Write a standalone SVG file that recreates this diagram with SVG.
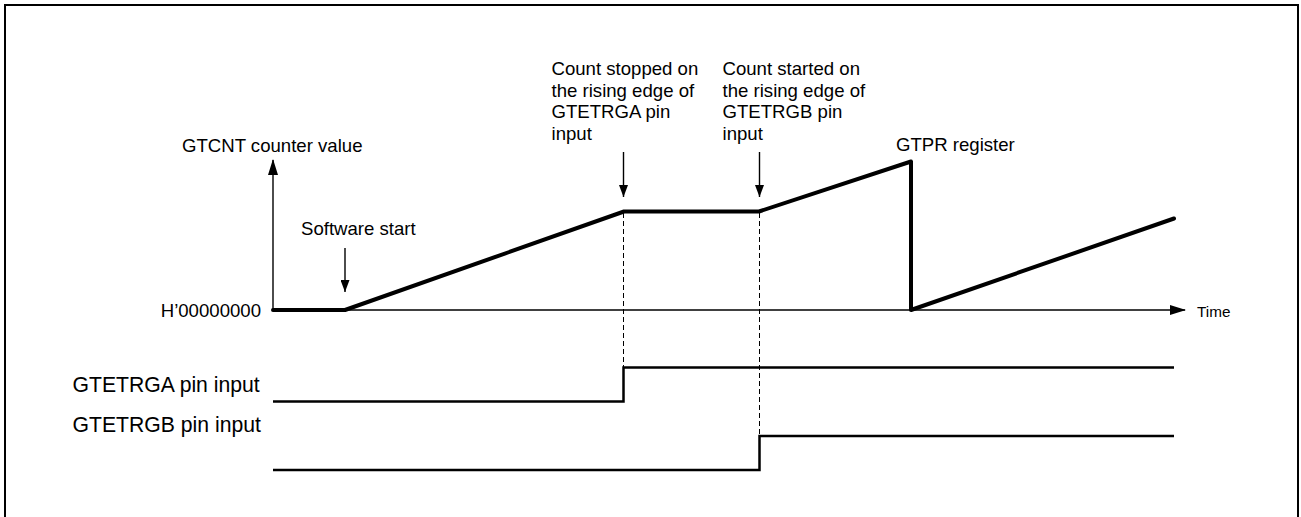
<svg xmlns="http://www.w3.org/2000/svg" width="1301" height="517" viewBox="0 0 1301 517">
<style>
text{font-family:"Liberation Sans",Arial,sans-serif;fill:#000}
.t{font-size:18.6px}
.b{font-size:21.2px}
.s{font-size:15.3px}
.ax{stroke:#000;stroke-width:1.4;fill:none}
.thick{stroke:#000;stroke-width:4;fill:none;stroke-linejoin:round;stroke-linecap:round}
.sig{stroke:#000;stroke-width:2.5;fill:none}
.dash{stroke:#000;stroke-width:1;stroke-dasharray:5,3;fill:none}
.ar{stroke:#000;stroke-width:1.4;fill:none}
</style>
<defs>
<marker id="ah" markerUnits="userSpaceOnUse" markerWidth="16" markerHeight="10" viewBox="0 0 16 10" refX="15" refY="5" orient="auto">
<path d="M0,0 L16,5 L0,10 Z" fill="#000"/>
</marker>
<marker id="ahs" markerUnits="userSpaceOnUse" markerWidth="12" markerHeight="9" viewBox="0 0 12 9" refX="12" refY="4.5" orient="auto">
<path d="M0,0 L12,4.5 L0,9 Z" fill="#000"/>
</marker>
</defs>
<rect x="5" y="5" width="1293" height="520" fill="#fff" stroke="#000" stroke-width="2"/>
<g id="connectors">
<line class="ax" x1="273" y1="310" x2="273" y2="160" marker-end="url(#ah)"/>
<line class="ax" x1="273" y1="310" x2="1185" y2="310" marker-end="url(#ah)"/>
<line class="ar" x1="345" y1="248" x2="345" y2="292" marker-end="url(#ahs)"/>
<line class="ar" x1="623.5" y1="152" x2="623.5" y2="197" marker-end="url(#ahs)"/>
<line class="ar" x1="759.5" y1="152" x2="759.5" y2="197" marker-end="url(#ahs)"/>
<line class="dash" x1="623.5" y1="213" x2="623.5" y2="367"/>
<line class="dash" x1="759.5" y1="213" x2="759.5" y2="436"/>
<polyline class="thick" points="273,310 345,310 624,211.5 759,211.5 911,161.5 911,310 1174,218.5"/>
<polyline class="sig" points="273,401.5 623.5,401.5 623.5,367.5 1174,367.5"/>
<polyline class="sig" points="273,470 759.5,470 759.5,436 1174,436"/>
</g>
<g id="label-gtcnt"><text class="t" x="182" y="152">GTCNT counter value</text></g>
<g id="label-software"><text class="t" x="301" y="235">Software start</text></g>
<g id="label-stopped">
<text class="t" x="551.5" y="75">Count stopped on</text>
<text class="t" x="551.5" y="96.7">the rising edge of</text>
<text class="t" x="551.5" y="118.4">GTETRGA pin</text>
<text class="t" x="551.5" y="140">input</text>
</g>
<g id="label-started">
<text class="t" x="722.5" y="75">Count started on</text>
<text class="t" x="722.5" y="96.7">the rising edge of</text>
<text class="t" x="722.5" y="118.4">GTETRGB pin</text>
<text class="t" x="722.5" y="140">input</text>
</g>
<g id="label-gtpr"><text class="t" x="896" y="151">GTPR register</text></g>
<g id="label-zero"><text class="t" x="261" y="317" text-anchor="end">H’00000000</text></g>
<g id="label-time"><text class="s" x="1197" y="317">Time</text></g>
<g id="label-gtetrga"><text class="b" x="72.5" y="392">GTETRGA pin input</text></g>
<g id="label-gtetrgb"><text class="b" x="72.5" y="432">GTETRGB pin input</text></g>
</svg>
